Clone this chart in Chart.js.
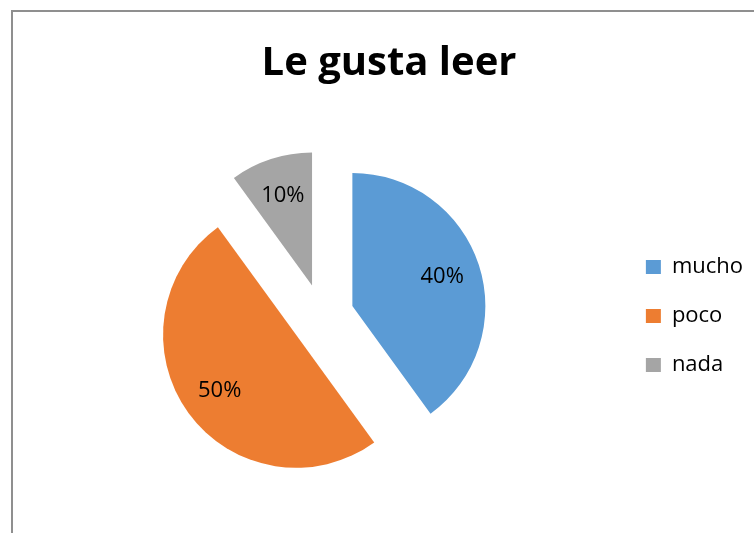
<!DOCTYPE html>
<html>
<head>
<meta charset="utf-8">
<script src="https://cdn.jsdelivr.net/npm/chart.js@4"></script>
<style>
  html, body { margin: 0; padding: 0; background: #fff; }
  canvas { display: block; }
</style>
</head>
<body>
<canvas id="chart" width="754" height="533"></canvas>
<script>
// data
const categories = ['mucho', 'poco', 'nada'];
const shares = [40, 50, 10];

const sliceColors = ['#5B9BD5', '#ED7D31', '#A5A5A5'];
const explode = 32;       // px each slice is pulled out
const labelRatio = 0.71;  // label distance from slice tip, as part of radius

Chart.defaults.font.family = "'Open Sans', sans-serif";
Chart.defaults.color = '#000';

// pull every slice out along its middle angle
const explodePlugin = {
  id: 'explode',
  afterDatasetUpdate(chart, args) {
    args.meta.data.forEach(arc => {
      const mid = (arc.startAngle + arc.endAngle) / 2;
      arc.x += Math.cos(mid) * explode;
      arc.y += Math.sin(mid) * explode;
    });
  }
};

// percent labels inside the slices
const sliceLabels = {
  id: 'sliceLabels',
  afterDatasetsDraw(chart) {
    const ctx = chart.ctx;
    const meta = chart.getDatasetMeta(0);
    const total = shares.reduce((a, b) => a + b, 0);
    ctx.save();
    ctx.font = "22px 'Open Sans'";
    ctx.fillStyle = '#000';
    ctx.textAlign = 'center';
    ctx.textBaseline = 'middle';
    meta.data.forEach((arc, i) => {
      const mid = (arc.startAngle + arc.endAngle) / 2;
      const r = arc.outerRadius * labelRatio;
      const pct = Math.round(shares[i] / total * 100) + '%';
      ctx.fillText(pct, arc.x + Math.cos(mid) * r, arc.y + Math.sin(mid) * r);
    });
    ctx.restore();
  }
};

// chart frame, only the left and top edges are inside the picture
const frame = {
  id: 'frame',
  beforeDraw(chart) {
    const ctx = chart.ctx;
    ctx.save();
    ctx.strokeStyle = '#8f8f8f';
    ctx.lineWidth = 2;
    ctx.beginPath();
    ctx.moveTo(12, chart.height + 5);
    ctx.lineTo(12, 11);
    ctx.lineTo(chart.width + 5, 11);
    ctx.stroke();
    ctx.restore();
  }
};

new Chart(document.getElementById('chart'), {
  type: 'pie',
  data: {
    labels: categories,
    datasets: [{
      data: shares,
      backgroundColor: sliceColors,
      borderWidth: 0
    }]
  },
  options: {
    responsive: false,
    animation: false,
    radius: 133,
    layout: {
      padding: { left: 25, right: 1, top: 0, bottom: 0 }
    },
    plugins: {
      title: {
        display: true,
        text: 'Le gusta leer',
        font: { size: 40, weight: 'bold' },
        color: '#000',
        padding: { top: 40, bottom: 11 }
      },
      legend: {
        position: 'right',
        fullSize: false,
        labels: {
          boxWidth: 15,
          boxHeight: 14,
          padding: 27,
          font: { size: 22 },
          color: '#000'
        }
      },
      tooltip: { enabled: false }
    }
  },
  plugins: [frame, explodePlugin, sliceLabels]
});
</script>
</body>
</html>
